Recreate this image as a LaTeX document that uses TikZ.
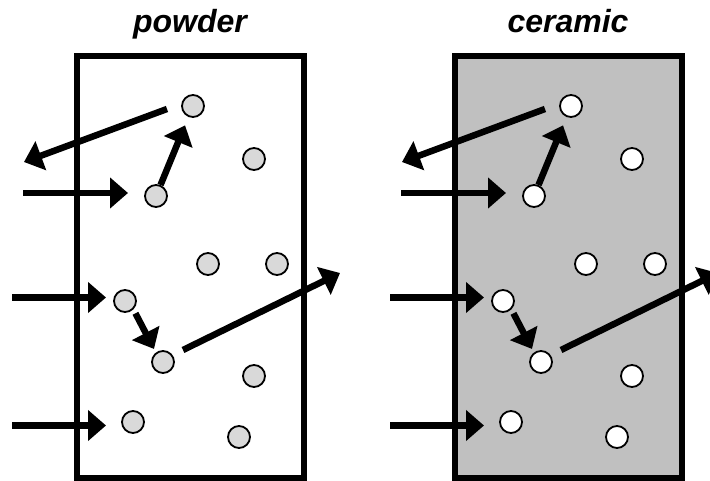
\documentclass[tikz,border=0pt]{standalone}
\usepackage{fontspec}
\setmainfont{Liberation Sans}
\usetikzlibrary{arrows.meta}
\definecolor{dotgrey}{RGB}{217,217,217}
\definecolor{boxgrey}{RGB}{192,192,192}
\begin{document}
\begin{tikzpicture}[x=1pt,y=-1pt,
  grain/.style={circle,draw,line width=1.8pt,minimum size=22pt,inner sep=0pt},
  flow/.style={line width=6.5pt,-{Triangle[length=18pt,width=30pt]}},
  frame/.style={line width=6pt},
  heading/.style={font=\fontsize{32}{38}\selectfont\bfseries\itshape,anchor=base}]
\useasboundingbox (0,0) rectangle (710,481);
\clip (0,0) rectangle (710,481);
\foreach \dx/\boxfill/\dotfill/\ttl/\p in {0/white/dotgrey/powder/L,378/boxgrey/white/ceramic/R}{
  \begin{scope}[xshift=\dx pt]
    % heading and sample block
    \node[heading] (\p head) at (190,33) {\ttl};
    \draw[frame,fill=\boxfill] (77,56.5) rectangle (304,477.5);
    % grains
    \node[grain,fill=\dotfill] (\p c1) at (193,106) {};
    \node[grain,fill=\dotfill] (\p c2) at (254,159) {};
    \node[grain,fill=\dotfill] (\p c3) at (156,196) {};
    \node[grain,fill=\dotfill] (\p c4) at (208,264) {};
    \node[grain,fill=\dotfill] (\p c5) at (277,264) {};
    \node[grain,fill=\dotfill] (\p c6) at (125,301) {};
    \node[grain,fill=\dotfill] (\p c7) at (163,362) {};
    \node[grain,fill=\dotfill] (\p c8) at (254,376) {};
    \node[grain,fill=\dotfill] (\p c9) at (133,422) {};
    \node[grain,fill=\dotfill] (\p c10) at (239,437) {};
    % free ends of the paths
    \coordinate (\p aout) at (24,162);
    \coordinate (\p bin) at (23,193);
    \coordinate (\p bend) at (128,193);
    \coordinate (\p din) at (12,297.5);
    \coordinate (\p dend) at (106,297.5);
    \coordinate (\p gin) at (12,425.5);
    \coordinate (\p gend) at (106,425.5);
    \coordinate (\p fout) at (340,273);
    % paths
    \draw[flow] (\p bin) -- (\p bend);
    \draw[flow,shorten >=9pt] (\p c3) -- (\p c1);
    \draw[flow] ([shift={(-26,3)}]\p c1.center) -- (\p aout);
    \draw[flow] (\p din) -- (\p dend);
    \draw[flow,shorten <=4.4pt,shorten >=4pt] (\p c6.-45) -- (\p c7.127);
    \draw[flow] ([shift={(20,-12)}]\p c7.center) -- (\p fout);
    \draw[flow] (\p gin) -- (\p gend);
  \end{scope}
}
\end{tikzpicture}
\end{document}
